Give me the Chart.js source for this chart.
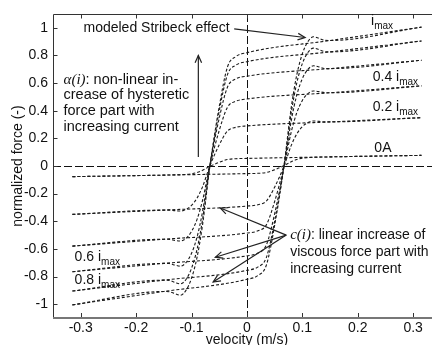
<!DOCTYPE html>
<html><head><meta charset="utf-8">
<script src="https://cdn.jsdelivr.net/npm/chart.js@4.4.1/dist/chart.umd.min.js"></script>
<style>html,body{margin:0;padding:0;background:#fff;overflow:hidden}</style>
</head><body>
<canvas id="c" width="432" height="345"></canvas>
<script>
// ---- data ----
const velocityLower = [-0.315, -0.15, 0, 0.02, 0.035, 0.05, 0.067, 0.08, 0.09, 0.1, 0.11, 0.12, 0.13, 0.14, 0.15, 0.315];
const velocityUpper = [-0.315, -0.15, -0.14, -0.13, -0.12, -0.11, -0.1, -0.09, -0.08, -0.067, -0.05, -0.035, -0.02, 0, 0.15, 0.315];

const imaxLower = [-1.005, -0.908, -0.82, -0.792, -0.718, -0.430, 0.007, 0.424, 0.660, 0.812, 0.900, 0.935, 0.924, 0.910, 0.908, 1.005];
const imaxUpper = [-1.005, -0.908, -0.910, -0.924, -0.935, -0.900, -0.812, -0.660, -0.424, -0.007, 0.430, 0.718, 0.792, 0.82, 0.908, 1.005];
const i08Lower = [-0.905, -0.826, -0.755, -0.730, -0.663, -0.399, 0.002, 0.385, 0.602, 0.741, 0.821, 0.853, 0.842, 0.828, 0.826, 0.905];
const i08Upper = [-0.905, -0.826, -0.828, -0.842, -0.853, -0.821, -0.741, -0.602, -0.385, -0.002, 0.399, 0.663, 0.730, 0.755, 0.826, 0.905];
const i06Lower = [-0.765, -0.705, -0.65, -0.630, -0.572, -0.346, -0.002, 0.328, 0.514, 0.632, 0.699, 0.725, 0.717, 0.706, 0.705, 0.765];
const i06Upper = [-0.765, -0.705, -0.706, -0.717, -0.725, -0.699, -0.632, -0.514, -0.328, 0.002, 0.346, 0.572, 0.630, 0.65, 0.705, 0.765];
const i04Lower = [-0.58, -0.53, -0.485, -0.469, -0.426, -0.257, 0.001, 0.247, 0.386, 0.474, 0.524, 0.543, 0.538, 0.531, 0.53, 0.58];
const i04Upper = [-0.58, -0.53, -0.531, -0.538, -0.543, -0.524, -0.474, -0.386, -0.247, -0.001, 0.257, 0.426, 0.469, 0.485, 0.53, 0.58];
const i02Lower = [-0.35, -0.319, -0.29, -0.280, -0.254, -0.153, 0.001, 0.149, 0.232, 0.285, 0.314, 0.326, 0.323, 0.319, 0.319, 0.35];
const i02Upper = [-0.35, -0.319, -0.319, -0.323, -0.326, -0.314, -0.285, -0.232, -0.149, -0.001, 0.153, 0.254, 0.280, 0.29, 0.319, 0.35];
const i0Lower = [-0.077, -0.066, -0.055, -0.053, -0.047, -0.027, 0.003, 0.031, 0.047, 0.057, 0.061, 0.063, 0.064, 0.065, 0.066, 0.077];
const i0Upper = [-0.077, -0.066, -0.065, -0.064, -0.063, -0.061, -0.057, -0.047, -0.031, -0.003, 0.027, 0.047, 0.053, 0.055, 0.066, 0.077];

const xTicks = [-0.3, -0.2, -0.1, 0, 0.1, 0.2, 0.3];
const yTicks = [-1, -0.8, -0.6, -0.4, -0.2, 0, 0.2, 0.4, 0.6, 0.8, 1];
const xTitle = 'velocity (m/s)';
const yTitle = 'normalized force (-)';

// ---- styling ----
const SANS = '"Liberation Sans", Arial, Helvetica, sans-serif';
const F14 = '14px ' + SANS;
const F145 = '14.5px ' + SANS;
const FSUB = '10px ' + SANS;
const FSERIF = 'italic 15px "Liberation Serif", "Times New Roman", serif';

const series = [
  [velocityLower, imaxLower], [velocityUpper, imaxUpper],
  [velocityLower, i08Lower], [velocityUpper, i08Upper],
  [velocityLower, i06Lower], [velocityUpper, i06Upper],
  [velocityLower, i04Lower], [velocityUpper, i04Upper],
  [velocityLower, i02Lower], [velocityUpper, i02Upper],
  [velocityLower, i0Lower], [velocityUpper, i0Upper]
];
const datasets = series.map(([vx, fy]) => ({
  data: vx.map((v, i) => ({x: v, y: fy[i]})),
  borderColor: '#1a1a1a', borderWidth: 1.1, borderDash: [3, 2],
  pointRadius: 0, fill: false, cubicInterpolationMode: 'monotone'
}));

// annotations (data coordinates)
const labels = [
  {x: 0.224, y: 1.05, runs: [['i', F14], ['max', FSUB, 5]]},
  {x: 0.227, y: 0.645, runs: [['0.4 i', F14], ['max', FSUB, 5]]},
  {x: 0.227, y: 0.428, runs: [['0.2 i', F14], ['max', FSUB, 5]]},
  {x: 0.23, y: 0.13, runs: [['0A', F14]]},
  {x: -0.311, y: -0.659, runs: [['0.6 i', F14], ['max', FSUB, 5]]},
  {x: -0.311, y: -0.828, runs: [['0.8 i', F14], ['max', FSUB, 5]]},
  {x: -0.295, y: 1.0, runs: [['modeled Stribeck effect', F14]]},
  {x: -0.331, y: 0.623, runs: [['\u03b1(i)', FSERIF], [': non-linear in-', F145]]},
  {x: -0.331, y: 0.511, runs: [['crease of hysteretic', F145]]},
  {x: -0.331, y: 0.399, runs: [['force part with', F145]]},
  {x: -0.331, y: 0.283, runs: [['increasing current', F145]]},
  {x: 0.078, y: -0.5, runs: [['c(i)', FSERIF], [': linear increase of', F14]]},
  {x: 0.078, y: -0.623, runs: [['viscous force part with', F14]]},
  {x: 0.078, y: -0.746, runs: [['increasing current', F14]]}
];
const arrows = [
  [-0.023, 0.993, 0.105, 0.93],
  [-0.0877, 0.065, -0.0877, 0.80],
  [0.071, -0.5, -0.048, -0.304],
  [0.071, -0.5, -0.057, -0.66],
  [0.071, -0.5, -0.061, -0.84]
];

function arrow(ctx, x1, y1, x2, y2) {
  const head = 8;
  ctx.beginPath(); ctx.moveTo(x1, y1); ctx.lineTo(x2, y2); ctx.stroke();
  const a = Math.atan2(y2 - y1, x2 - x1);
  ctx.beginPath();
  ctx.moveTo(x2 - head * Math.cos(a - 0.42), y2 - head * Math.sin(a - 0.42));
  ctx.lineTo(x2, y2);
  ctx.lineTo(x2 - head * Math.cos(a + 0.42), y2 - head * Math.sin(a + 0.42));
  ctx.stroke();
}

const deco = {
  id: 'deco',
  beforeDatasetsDraw(chart) {
    const {ctx, chartArea: a, scales: {x, y}} = chart;
    ctx.save();
    // zero reference lines
    ctx.strokeStyle = '#111'; ctx.lineWidth = 1; ctx.setLineDash([8, 3]);
    const x0 = Math.round(x.getPixelForValue(0)) + 0.5;
    const y0 = Math.round(y.getPixelForValue(0)) + 0.5;
    ctx.beginPath(); ctx.moveTo(a.left, y0); ctx.lineTo(a.right, y0); ctx.stroke();
    ctx.beginPath(); ctx.moveTo(x0, a.top); ctx.lineTo(x0, a.bottom); ctx.stroke();
    ctx.setLineDash([]);
    // frame
    ctx.strokeStyle = '#333'; ctx.lineWidth = 1;
    const L = Math.round(a.left) + 0.5, T = Math.round(a.top) + 0.5, B = Math.round(a.bottom);
    ctx.beginPath(); ctx.moveTo(L, T); ctx.lineTo(a.right, T); ctx.moveTo(L, T); ctx.lineTo(L, B); ctx.stroke();
    ctx.strokeStyle = '#777'; ctx.lineWidth = 2;
    ctx.beginPath(); ctx.moveTo(L - 0.5, B); ctx.lineTo(a.right, B); ctx.stroke();
    // inward ticks
    ctx.strokeStyle = '#333'; ctx.lineWidth = 1;
    ctx.beginPath();
    x.ticks.forEach(t => {
      const px = Math.round(x.getPixelForValue(t.value)) + 0.5;
      ctx.moveTo(px, T); ctx.lineTo(px, T + 4);
      ctx.moveTo(px, B - 1); ctx.lineTo(px, B - 5);
    });
    y.ticks.forEach(t => {
      const py = Math.round(y.getPixelForValue(t.value)) + 0.5;
      ctx.moveTo(L, py); ctx.lineTo(L + 4, py);
    });
    ctx.stroke();
    ctx.restore();
  },
  afterDatasetsDraw(chart) {
    const {ctx, chartArea: a, scales: {x, y}} = chart;
    ctx.save();
    ctx.fillStyle = '#111'; ctx.textBaseline = 'middle'; ctx.textAlign = 'left';
    labels.forEach(l => {
      let cx = x.getPixelForValue(l.x);
      const cy = y.getPixelForValue(l.y);
      l.runs.forEach(([t, f, dy]) => {
        ctx.font = f; ctx.fillText(t, cx, cy + (dy || 0));
        cx += ctx.measureText(t).width;
      });
    });
    ctx.strokeStyle = '#222'; ctx.lineWidth = 1.2;
    arrows.forEach(([x1, y1, x2, y2]) => arrow(ctx,
      x.getPixelForValue(x1), y.getPixelForValue(y1),
      x.getPixelForValue(x2), y.getPixelForValue(y2)));
    // axis titles
    ctx.font = F14; ctx.textAlign = 'center';
    ctx.fillText(xTitle, x.getPixelForValue(0), 340);
    ctx.translate(18, y.getPixelForValue(0));
    ctx.rotate(-Math.PI / 2);
    ctx.fillText(yTitle, 0, 0);
    ctx.restore();
  }
};

new Chart(document.getElementById('c'), {
  type: 'line',
  data: {datasets},
  options: {
    responsive: false, animation: false, devicePixelRatio: 1,
    layout: {padding: {top: 14, right: 0, bottom: 0, left: 0}},
    plugins: {legend: {display: false}, tooltip: {enabled: false}},
    scales: {
      x: {
        type: 'linear', min: -0.35, max: 0.334,
        grid: {display: false, drawTicks: false}, border: {display: false},
        afterBuildTicks: s => { s.ticks = xTicks.map(v => ({value: v})); },
        afterFit: s => { s.height = 27; },
        ticks: {color: '#111', font: {family: SANS, size: 14}, padding: 2, maxRotation: 0,
                callback: v => String(v)}
      },
      y: {
        type: 'linear', min: -1.1, max: 1.1,
        grid: {display: false, drawTicks: false}, border: {display: false},
        afterBuildTicks: s => { s.ticks = yTicks.map(v => ({value: v})); },
        afterFit: s => { s.width = 53; },
        ticks: {color: '#111', font: {family: SANS, size: 14}, padding: 5,
                callback: v => String(v)}
      }
    }
  },
  plugins: [deco]
});
</script>
</body></html>
